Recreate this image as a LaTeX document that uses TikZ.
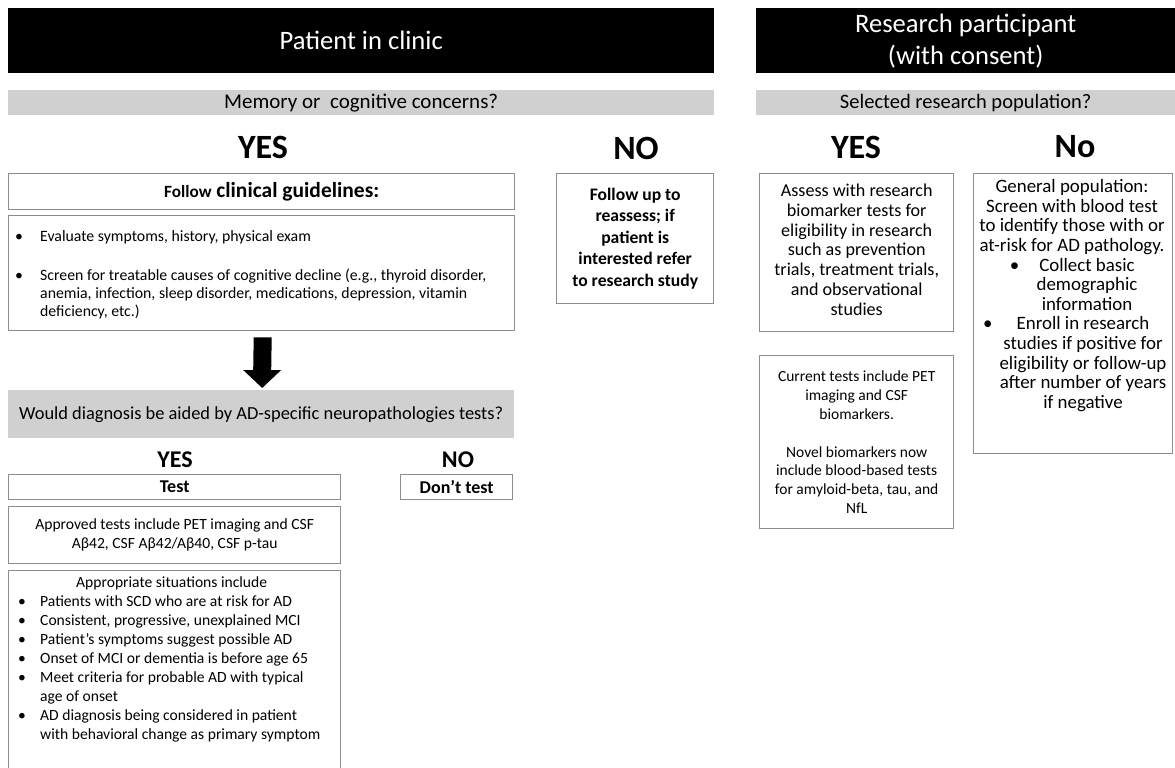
\documentclass[tikz,border=0pt]{standalone}
\usepackage{fontspec}
\setmainfont{Carlito}
\usetikzlibrary{calc}
\definecolor{boxgray}{RGB}{140,140,140}
\definecolor{bargray}{RGB}{208,208,208}
\newcommand\fsz[2]{\fontsize{#1}{#2}\selectfont}
\newcommand\bulA{\makebox[25pt][l]{\textbullet}}
\newcommand\bulB{\makebox[22pt][l]{\textbullet}}
\begin{document}
\begin{tikzpicture}[x=1pt,y=-1pt,
  box/.style={draw=boxgray, line width=1.4pt, fill=white, inner sep=0pt, anchor=north west},
  hdr/.style={fill=black, text=white, inner sep=0pt, anchor=north west, align=center, font=\fsz{26.6}{32}},
  qbar/.style={fill=bargray, inner sep=0pt, anchor=north west, align=center},
  bigans/.style={font=\fsz{34}{38}\bfseries, inner sep=0pt},
  midans/.style={font=\fsz{24}{28}\bfseries, inner sep=0pt},
  txt/.style={inner sep=0pt, align=center}]
\useasboundingbox (0,0) rectangle (1175,768);
% headers
\node[hdr, minimum width=706pt, minimum height=65pt] (clinic) at (8,8) {Patient in clinic};
\node[hdr, minimum width=419pt, minimum height=65pt] (research) at (756,8) {Research participant\\(with consent)};
% question bars
\node[qbar, minimum width=706pt, minimum height=25pt, font=\fsz{21}{24}] (q1) at (8,90) {Memory or\ \ cognitive concerns?};
\node[qbar, minimum width=419pt, minimum height=25pt, font=\fsz{20.5}{24}] (q3) at (756,90) {Selected research population?};
% answers
\node[bigans] (yes1) at (263,147) {YES};
\node[bigans] (no1) at (636,148) {NO};
\node[bigans] (yes3) at (856,147) {YES};
\node[bigans] (no3) at (1075,147) {No};
% left column boxes
\node[box, minimum width=506pt, minimum height=36pt] (follow) at (8,173) {};
\node[txt, font=\bfseries] (followtxt) at ($(follow.center)+(10,0)$) {{\fsz{17.2}{20}Follow}{\fsz{21.5}{25} clinical guidelines:}};
\node[box, minimum width=506pt, minimum height=115pt] (bul) at (8,215) {};
\node[txt, align=left, anchor=west, font=\fsz{15.8}{18}] (bultxt) at (15,274.5)
 {\bulA Evaluate symptoms, history, physical exam\\[21pt]
  \bulA Screen for treatable causes of cognitive decline (e.g., thyroid disorder,\\
  \hspace*{25pt}anemia, infection, sleep disorder, medications, depression, vitamin\\
  \hspace*{25pt}deficiency, etc.)};
\node[box, minimum width=157pt, minimum height=130pt] (nobox) at (556,173) {};
\node[txt, font=\fsz{17.6}{21.5}\bfseries] (notxt) at (nobox.center)
 {Follow up to\\reassess; if\\patient is\\interested refer\\to research study};
% arrow
\path (bul.south) ++(1,6) coordinate (ar1);
\node[qbar, minimum width=506pt, minimum height=48pt, font=\fsz{18.4}{22}] (q2) at (8,390) {Would diagnosis be aided by AD-specific neuropathologies tests?};
\path (q2.north) ++(1,-2) coordinate (ar2);
\fill[black] (ar1) ++(-9,0) -- ++(18,0) -- ($(ar2)+(9,-18)$) -- ++(10,0) -- (ar2) -- ($(ar2)+(-19,-18)$) -- ++(10,0) -- cycle;
\node[midans] (yes2) at (175,460) {YES};
\node[midans] (no2) at (458,460) {NO};
\node[box, minimum width=332pt, minimum height=25pt, font=\fsz{18}{21}\bfseries] (test) at (8,474) {Test};
\node[box, minimum width=112pt, minimum height=25pt, font=\fsz{18}{21}\bfseries] (donttest) at (400,474) {Don’t test};
\node[box, minimum width=332pt, minimum height=57pt] (approved) at (8,506) {};
\node[txt, font=\fsz{15.6}{19}] (approvedtxt) at (approved.center)
 {Approved tests include PET imaging and CSF\\Aβ42, CSF Aβ42/Aβ40, CSF p-tau};
\node[box, minimum width=332pt, minimum height=205pt] (approp) at (8,570) {};
\node[txt, align=left, anchor=west, font=\fsz{15.6}{19}] (approptxt) at (18,659)
 {\hspace*{58pt}Appropriate situations include\\
  \bulB Patients with SCD who are at risk for AD\\
  \bulB Consistent, progressive, unexplained MCI\\
  \bulB Patient’s symptoms suggest possible AD\\
  \bulB Onset of MCI or dementia is before age 65\\
  \bulB Meet criteria for probable AD with typical\\
  \hspace*{22pt}age of onset\\
  \bulB AD diagnosis being considered in patient\\
  \hspace*{22pt}with behavioral change as primary symptom};
% right column boxes
\node[box, minimum width=194pt, minimum height=158pt] (assess) at (759,173) {};
\node[txt, font=\fsz{18.1}{19.8}] (assesstxt) at ($(assess.center)+(0,-3)$)
 {Assess with research\\biomarker tests for\\eligibility in research\\such as prevention\\trials, treatment trials,\\and observational\\studies};
\node[box, minimum width=194pt, minimum height=173pt] (current) at (759,355) {};
\node[txt, font=\fsz{15.5}{18.9}] (currenttxt) at (current.center)
 {Current tests include PET\\imaging and CSF\\biomarkers.\\[18.9pt]Novel biomarkers now\\include blood-based tests\\for amyloid-beta, tau, and\\NfL};
\node[box, minimum width=199pt, minimum height=280pt] (general) at (973,173) {};
\node[txt, font=\fsz{18.9}{19.6}] (generaltxt) at (1072,295.5)
 {General population:\\Screen with blood test\\to identify those with or\\at-risk for AD pathology.\\
  \hspace*{30pt}\llap{\textbullet\hspace{20pt}}Collect basic\\
  \hspace*{30pt}demographic\\
  \hspace*{30pt}information\\
  \hspace*{22pt}\llap{\textbullet\hspace{24pt}}Enroll in research\\
  \hspace*{22pt}studies if positive for\\
  \hspace*{22pt}eligibility or follow-up\\
  \hspace*{22pt}after number of years\\
  \hspace*{22pt}if negative};
\end{tikzpicture}
\end{document}
